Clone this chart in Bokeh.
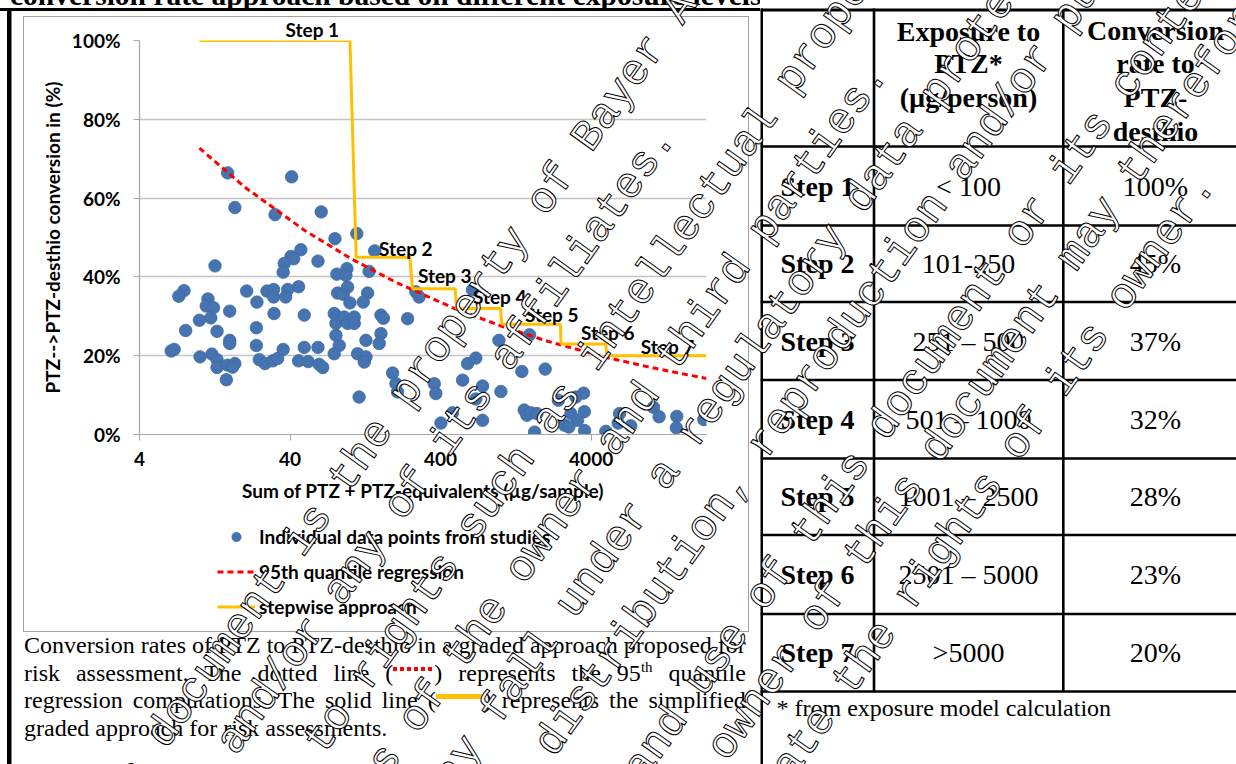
import math
from bokeh.plotting import figure
from bokeh.models import (Range1d, FixedTicker, PrintfTickFormatter, Legend, LegendItem,
                          Label, Title, Div)
from bokeh.layouts import row, column
from bokeh.embed import file_html
from bokeh.resources import INLINE
from bokeh.core.properties import value

# ---------------------------------------------------------------- data
sample_sum = [15.4, 41.0, 17.2, 31.8, 64.4, 79.5, 12.7, 47.2, 40.6, 42.3, 36.6, 36.0, 61.3,
              7.9, 7.3, 20.6, 28.1, 31.1, 31.1, 38.6, 37.4, 45.6, 24.1, 11.4, 11.1, 12.4,
              11.9, 10.0, 15.9, 8.1, 13.1, 31.3, 49.7, 23.9, 15.9, 15.9, 23.9, 6.5, 6.8,
              10.1, 12.1, 13.1, 13.1, 15.4, 17.2, 16.6, 15.1, 25.0, 27.3, 30.7, 33.1, 36.0,
              45.6, 52.8, 49.7, 61.3, 62.5, 65.9,
              81.9, 95.5, 94.0, 111, 146, 134, 82.8, 90.2, 96.5, 100, 131, 122.5, 78.6,
              82.8, 80.7, 91.6, 96.5, 106.8, 106.8, 160.6, 166.8, 241.5, 80.7, 84.9, 78.6,
              127.7, 160.6, 156.4, 112.4, 127.7, 124.4, 192, 202, 207, 115, 274, 288, 363,
              372, 480, 402, 560, 604, 686, 760, 686, 760, 976, 1006, 652,
              1560, 1980, 1386, 1436, 1497, 1591, 1744, 1684, 2423, 3166, 3562, 2933, 3249,
              3605, 2648, 2845, 3617, 5008, 6177, 6045, 7340, 10380, 11310, 14830, 14720,
              22410]
conversion_pct = [66.4, 65.4, 57.6, 55.8, 56.5, 49.7, 42.8, 46.9, 45.2, 44.6, 43.4, 41.2, 44.0,
                  36.5, 35.1, 36.4, 36.4, 36.8, 34.9, 36.8, 34.9, 37.5, 33.6, 34.4, 32.6, 32.2,
                  29.6, 29.0, 31.3, 26.4, 26.2, 30.7, 30.3, 27.1, 23.9, 23.1, 22.6, 21.2, 21.6,
                  19.7, 20.4, 19.0, 17.0, 17.6, 18.0, 17.1, 13.9, 19.0, 18.0, 18.7, 19.3, 21.6,
                  18.7, 18.5, 22.1, 22.1, 17.8, 17.0,
                  40.7, 42.1, 40.4, 51.0, 46.6, 41.4, 35.9, 35.6, 37.4, 33.4, 35.9, 33.6, 30.7,
                  29.8, 28.2, 29.8, 28.2, 29.8, 28.2, 30.3, 29.5, 29.4, 25.2, 22.6, 20.5,
                  23.9, 25.6, 23.1, 20.5, 19.7, 18.4, 15.6, 12.9, 10.8, 9.5, 36.2, 34.9, 12.9,
                  10.4, 5.5, 2.9, 13.8, 18.0, 19.4, 12.3, 9.0, 3.6, 23.9, 10.9, 36.7,
                  25.3, 16.6, 16.0, 6.2, 4.9, 5.5, 5.3, 0.6, 8.7, 9.5, 10.5, 5.3, 3.6,
                  5.8, 2.4, 1.9, 1.0, 0.8, 5.3, 2.9, 2.2, 6.9, 4.5, 4.6, 1.7,
                  3.8]

quantile_x = [10, 20, 50, 100, 200, 500, 1000, 2000, 5000, 10000, 23350]
quantile_y = [72.7, 62.8, 51.8, 44.8, 38.7, 31.9, 27.6, 23.8, 19.6, 17.0, 14.2]

step_x = [10, 100, 110, 250, 260, 500, 510, 1000, 1020, 2500, 2525, 5000, 5080, 23350]
step_y = [100, 100, 45, 45, 37, 37, 32, 32, 28, 28, 23, 23, 20, 20]

step_names = ["Step 1", "Step 2", "Step 3", "Step 4", "Step 5", "Step 6", "Step 7"]
step_label_x = [56.8, 156, 283, 656, 1452, 3420, 8550]
step_level = [100, 45, 37, 32, 28, 23, 20]

x_ticks = [4, 40, 400, 4000]
y_ticks = [0, 20, 40, 60, 80, 100]

legend_labels = ["Individual data points from studies", "95th quantile regression",
                 "stepwise approach"]

table_header_exposure = ["Exposure to", "PTZ*", "(\u00b5g/person)"]
table_header_rate = ["Conversion", "rate to", "PTZ-", "desthio"]
table_steps = ["Step 1", "Step 2", "Step 3", "Step 4", "Step 5", "Step 6", "Step 7"]
table_exposure = ["< 100", "101-250", "251 \u2013 500", "501 \u2013 1000",
                  "1001 \u2013 2500", "2501 \u2013 5000", ">5000"]
table_rates = ["100%", "45%", "37%", "32%", "28%", "23%", "20%"]
footnote = "* from exposure model calculation"

page_title = "conversion rate approach based on different exposure levels"
caption_line1 = "Conversion rates of PTZ to PTZ-desthio in a graded approach proposed for"
caption_line2a = "risk assessment. The dotted line ("
caption_line2b = ") represents the 95"
caption_line2c = " quantile"
caption_line3a = "regression computations. The solid line ("
caption_line3b = ") represents the simplified"
caption_line4 = "graded approach for risk assessments."

# watermark lines: (text, anchor word, anchor x, anchor y in page pixels)
watermark = [
    ("This document is the property of Bayer AG", "property", 410, 410),
    ("and/or any of its affiliates.", "affiliates.", 510, 373),
    ("It may be subject to rights such as intellectual property", "intellectual", 597, 373),
    ("and copyrights of the owner and third parties.", "third", 677, 373),
    ("Furthermore, this document may fall under a regulatory data protection regime.",
     "regulatory", 697, 450),
    ("Consequently, any publication, distribution, reproduction and/or publishing",
     "reproduction", 767, 460),
    ("and any commercial exploitation and use of this document or its contents",
     "document", 887, 443),
    ("without the permission of the owner of this document may therefore", "may", 1077, 273),
    ("be prohibited and violate the rights of its owner.", "of its", 1020, 463),
]

# ---------------------------------------------------------------- styling
SANS = "Lato"
SERIF = "Liberation Serif"
BLUE = "#4674B0"
RED = "#FF0000"
ORANGE = "#FFC000"
GRID = "#C4C4C4"
FS = "19px"


def bg_lines(specs):
    """CSS background made of thin solid rectangles: (color, w, h, x, y)."""
    imgs = ", ".join(f"linear-gradient({c},{c})" for c, *_ in specs)
    sizes = ", ".join(f"{w} {h}" for _, w, h, _, _ in specs)
    pos = ", ".join(f"{x} {y}" for *_, x, y in specs)
    return {"background-image": imgs, "background-size": sizes,
            "background-position": pos, "background-repeat": "no-repeat",
            "background-color": "white"}


# ---------------------------------------------------------------- top strip (cut title)
top = Div(text=(f'<div style="position:relative;top:-19px;left:10px;white-space:nowrap;'
                f'font-family:\'Liberation Serif\';font-weight:bold;font-size:29.5px;'
                f'line-height:29px;color:black">{page_title}</div>'),
          width=760, height=8, margin=(0, 0, 0, 0),
          styles={"overflow": "hidden", "background-color": "white"})

# ---------------------------------------------------------------- chart
chart_styles = bg_lines([
    ("#000", "4.5px", "100%", "7px", "0px"),         # document left border
    ("#000", "100%", "3px", "0px", "0px"),           # document top border
    ("#A0A0A0", "1px", "100%", "23px", "8px"),       # chart area frame
    ("#A0A0A0", "1px", "100%", "748px", "8px"),
    ("#A0A0A0", "726px", "1px", "23px", "8px"),
])
p = figure(width=760, height=502, x_axis_type="log",
           x_range=Range1d(4, 23350), y_range=Range1d(0, 100),
           min_border_left=139, min_border_right=54, min_border_top=32,
           min_border_bottom=76, output_backend="svg", toolbar_location=None,
           styles=chart_styles)
p.outline_line_color = None
p.background_fill_color = "white"
p.border_fill_alpha = 0
p.xgrid.visible = False
p.ygrid.grid_line_color = GRID
p.ygrid.grid_line_width = 1.5
p.ygrid.ticker = FixedTicker(ticks=y_ticks)

p.yaxis.ticker = FixedTicker(ticks=y_ticks)
p.yaxis.formatter = PrintfTickFormatter(format="%d%%")
p.xaxis.ticker = FixedTicker(ticks=x_ticks)
p.xaxis.major_label_overrides = {t: str(t) for t in x_ticks}
for ax in (p.xaxis, p.yaxis):
    ax.axis_line_color = "#A6A6A6"
    ax.axis_line_width = 1.2
    ax.major_tick_line_color = "#A6A6A6"
    ax.major_tick_out = 6
    ax.major_tick_in = 0
    ax.minor_tick_line_color = None
    ax.major_label_text_font = SANS
    ax.major_label_text_font_style = "bold"
    ax.major_label_text_font_size = FS
    ax.major_label_text_color = "black"
    ax.axis_label_text_font = SANS
    ax.axis_label_text_font_style = "bold"
    ax.axis_label_text_font_size = FS
    ax.axis_label_text_color = "black"
p.xaxis.major_label_standoff = 11
p.xaxis.axis_label_standoff = 10
p.yaxis.major_label_standoff = 13
p.yaxis.axis_label_standoff = 5
p.xaxis.axis_label = "Sum of PTZ + PTZ-equivalents (\u00b5g/sample)"
p.yaxis.axis_label = "PTZ-->PTZ-desthio conversion in (%)"

pts = p.scatter(sample_sum, conversion_pct, size=12.5, marker="circle",
                fill_color=BLUE, line_color="#3E69A3", line_width=0.8)
reg = p.line(quantile_x, quantile_y, line_color=RED, line_width=3, line_dash="6 4")
stp = p.line(step_x, step_y, line_color=ORANGE, line_width=3)

p.add_layout(Title(text=step_names[0], align="left", offset=146, standoff=0,
                   text_font=SANS, text_font_style="bold", text_font_size=FS,
                   text_color="black"), "above")
label_offsets = [10, 9, 13, 12, 10, 11, 9]
for i in range(1, len(step_names)):
    p.add_layout(Label(x=step_label_x[i], y=step_level[i], y_offset=label_offsets[i],
                       text=step_names[i], text_font=SANS, text_font_style="bold",
                       text_font_size=FS, text_color="black", text_baseline="middle",
                       text_align="left"))

# ---------------------------------------------------------------- legend strip
leg_styles = bg_lines([
    ("#000", "4.5px", "100%", "7px", "0px"),
    ("#A0A0A0", "1px", "100%", "23px", "0px"),
    ("#A0A0A0", "1px", "100%", "748px", "0px"),
])
lg = figure(width=760, height=120, x_range=Range1d(0, 1), y_range=Range1d(0, 1),
            x_axis_location=None, y_axis_location=None,
            min_border_left=139, min_border_right=54, min_border_top=0, min_border_bottom=0,
            output_backend="svg", toolbar_location=None, styles=leg_styles)
lg.outline_line_color = None
lg.grid.visible = False
lg.background_fill_alpha = 0
lg.border_fill_alpha = 0
# legend keys (placed outside the visible range of this strip)
lg_pts = lg.scatter(x=[5], y=[5], size=12.5, marker="circle", fill_color=BLUE,
                    line_color="#3E69A3", line_width=0.8)
lg_reg = lg.line(x=[5, 6], y=[5, 5], line_color=RED, line_width=3, line_dash="6 4")
lg_stp = lg.line(x=[5, 6], y=[5, 5], line_color=ORANGE, line_width=3)
legend = Legend(items=[LegendItem(label=legend_labels[0], renderers=[lg_pts]),
                       LegendItem(label=legend_labels[1], renderers=[lg_reg]),
                       LegendItem(label=legend_labels[2], renderers=[lg_stp])],
                location=(78, 12), orientation="vertical",
                border_line_color=None, background_fill_alpha=0,
                padding=0, margin=0, spacing=12, glyph_width=38, glyph_height=23,
                label_height=23, label_standoff=4, label_text_font=SANS,
                label_text_font_style="bold", label_text_font_size=FS,
                label_text_color="black")
lg.add_layout(legend)

# ---------------------------------------------------------------- caption (HTML text)
red_sample = ('<span style="display:inline-block;width:41px;height:4px;vertical-align:10px;'
              'background:repeating-linear-gradient(to right,#FF0000 0 4px,transparent 4px 7px)">'
              '</span>')
orange_sample = ('<span style="display:inline-block;width:48px;height:5px;vertical-align:9px;'
                 'background:#FFC000"></span>')
line_css = ("height:27.6px;line-height:27.6px;white-space:nowrap;")
just_css = line_css + "text-align:justify;text-align-last:justify;"
cap_html = (
    f'<div style="{just_css}">{caption_line1}</div>'
    f'<div style="{just_css}">{caption_line2a}{red_sample}{caption_line2b}'
    f'<sup style="font-size:15px;line-height:0;vertical-align:9px">th</sup>{caption_line2c}</div>'
    f'<div style="{just_css}">{caption_line3a}{orange_sample}{caption_line3b}</div>'
    f'<div style="{line_css}text-align:left;">{caption_line4}</div>'
)
cap_styles = bg_lines([
    ("#000", "4.5px", "100%", "7px", "0px"),
    ("#A0A0A0", "1px", "2px", "23px", "0px"),
    ("#A0A0A0", "1px", "2px", "748px", "0px"),
    ("#A0A0A0", "726px", "1px", "23px", "1px"),
])
cap_styles.update({"font-family": "'Liberation Serif'", "font-size": "24px",
                   "color": "black", "padding": "2px 13px 0px 24px",
                   "box-sizing": "border-box", "overflow": "hidden"})
cap = Div(text=cap_html, width=760, height=134, margin=(0, 0, 0, 0), styles=cap_styles)

# ---------------------------------------------------------------- table
tb = figure(width=476, height=764, x_range=Range1d(760, 1236), y_range=Range1d(764, 0),
            x_axis_location=None, y_axis_location=None, min_border=0,
            output_backend="svg", toolbar_location=None)
tb.outline_line_color = None
tb.grid.visible = False

row_lines = [146, 225, 301.5, 379.5, 458, 534.5, 613.5, 691]
tb.segment(x0=[760] * len(row_lines), x1=[1236] * len(row_lines), y0=row_lines, y1=row_lines,
           line_color="black", line_width=2.6)
tb.quad(left=[759.5], right=[762.5], top=[8], bottom=[764], fill_color="black", line_color=None)
tb.quad(left=[760], right=[1236], top=[8], bottom=[11], fill_color="black", line_color=None)
tb.segment(x0=[873.5, 1062.8], x1=[873.5, 1062.8], y0=[8, 8], y1=[691, 691],
           line_color="black", line_width=2.6)

hdr = dict(text_font=value(SERIF), text_font_style="bold", text_font_size="28px",
           text_align="center", text_baseline="middle", text_color="black")
tb.text(x=[968] * 3, y=[30.5, 63, 97.3], text=table_header_exposure, **hdr)
tb.text(x=[1155] * 4, y=[29.5, 63, 97.3, 130.7], text=table_header_rate, **hdr)

row_mid = [(row_lines[i] + row_lines[i + 1]) / 2 for i in range(7)]
tb.text(x=[817] * 7, y=row_mid, text=table_steps, **hdr)
cell = dict(text_font=value(SERIF), text_font_size="28px", text_align="center",
            text_baseline="middle", text_color="black")
tb.text(x=[968] * 7, y=row_mid, text=table_exposure, **cell)
tb.text(x=[1155] * 7, y=row_mid, text=table_rates, **cell)
tb.text(x=[776], y=[707], text=[footnote], text_font=value(SERIF), text_font_size="24px",
        text_align="left", text_baseline="alphabetic", text_color="black")

# ---------------------------------------------------------------- watermark overlay
WM_ANGLE = 54.5
WM_FS = 43.6
adv = 0.6 * WM_FS
ca, sa = math.cos(math.radians(WM_ANGLE)), math.sin(math.radians(WM_ANGLE))
wm_parts = []
for text, word, ax_, ay_ in watermark:
    n = text.index(word)
    x0 = ax_ - n * adv * ca - 0.27 * WM_FS * sa
    y0 = ay_ + n * adv * sa - 0.27 * WM_FS * ca
    wm_parts.append(f'<div style="position:absolute;left:{x0:.1f}px;top:{y0:.1f}px;'
                    f'line-height:0;white-space:pre;transform-origin:0 0;'
                    f'transform:rotate(-{WM_ANGLE}deg)">{text}</div>')
wm = Div(text="".join(wm_parts), width=1236, height=764, margin=(0, 0, 0, 0),
         styles={"position": "absolute", "left": "0px", "top": "0px", "overflow": "hidden",
                 "pointer-events": "none", "z-index": "10",
                 "font-family": "'Liberation Mono'", "font-size": f"{WM_FS}px",
                 "color": "white", "-webkit-text-stroke": "1px black"})

layout = row(column(top, p, lg, cap, spacing=0), tb, wm, spacing=0)

with open("out.html", "w") as f:
    f.write(file_html(layout, INLINE))
